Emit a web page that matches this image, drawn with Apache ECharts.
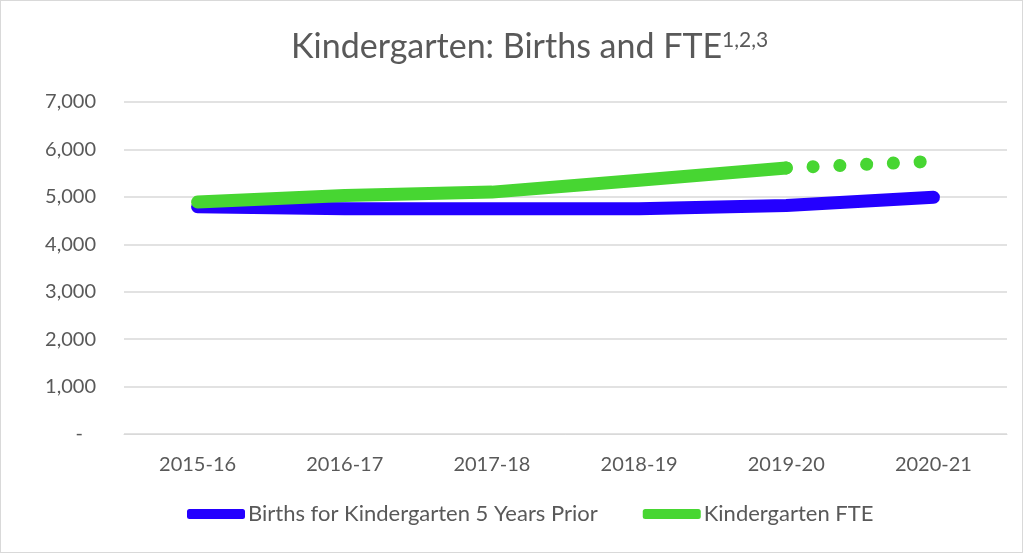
<!DOCTYPE html>
<html>
<head>
<meta charset="utf-8">
<title>Kindergarten: Births and FTE</title>
<script src="https://cdn.jsdelivr.net/npm/echarts@6/dist/echarts.min.js"></script>
<style>
    html, body { margin: 0; padding: 0; background: #fff; }
    #container { width: 1021px; height: 551px; border: 1px solid #d9d9d9; }
</style>
</head>
<body>
<div id="container"></div>
<script>
var categories = ['2015-16', '2016-17', '2017-18', '2018-19', '2019-20', '2020-21'];
var births = [4790, 4750, 4750, 4750, 4820, 4990];
var fteActual = [4890, 5030, 5100, 5350, 5610, null];
var fteProjected = [null, null, null, null, 5610, 5750];
var yTicks = [0, 1000, 2000, 3000, 4000, 5000, 6000, 7000];

!(function () {
    printChart();
}());

function printChart() {
    var dom = document.getElementById('container');
    var myChart = echarts.init(dom);
    var font = 'Lato, "Liberation Sans", sans-serif';
    var grey = '#595959';
    var option = {
        animation: false,
        title: {
            text: '{m|Kindergarten: Births and FTE}{s|1,2,3}',
            left: 285,
            top: 24,
            textStyle: {
                fontWeight: 'normal',
                rich: {
                    m: { fontFamily: font, fontSize: 34, fontWeight: 'normal', color: grey },
                    s: { fontFamily: font, fontSize: 21, fontWeight: 'normal', color: grey, verticalAlign: 'top', padding: [0, 0, 14, 0] }
                }
            }
        },
        grid: {
            left: 123,
            right: 15,
            top: 101,
            bottom: 118
        },
        legend: {
            bottom: 22,
            left: 181,
            itemWidth: 58,
            itemHeight: 10,
            itemGap: 45,
            icon: 'roundRect',
            data: ['Births for Kindergarten 5 Years Prior', 'Kindergarten FTE'],
            textStyle: { fontFamily: font, fontSize: 22, color: grey, padding: [0, 0, 0, -2] }
        },
        xAxis: {
            type: 'category',
            data: categories,
            boundaryGap: true,
            axisLine: { lineStyle: { color: '#d9d9d9', width: 1 } },
            axisTick: { show: false },
            axisLabel: { fontFamily: font, fontSize: 20, color: grey, margin: 21 }
        },
        yAxis: {
            type: 'value',
            min: yTicks[0],
            max: yTicks[yTicks.length - 1],
            interval: 1000,
            axisLine: { show: false },
            axisTick: { show: false },
            splitLine: { lineStyle: { color: '#d9d9d9', width: 1.5 } },
            axisLabel: {
                fontFamily: font,
                fontSize: 20,
                color: grey,
                margin: 28,
                formatter: function (v) {
                    if (v === 0) return '{d|-}';
                    return v.toLocaleString('en-US');
                },
                rich: {
                    d: { fontFamily: font, fontSize: 20, color: grey, padding: [0, 13, 0, 0] }
                }
            }
        },
        series: [
            {
                name: 'Births for Kindergarten 5 Years Prior',
                type: 'line',
                color: '#2400FF',
                data: births,
                showSymbol: false,
                symbol: 'none',
                lineStyle: { width: 13, cap: 'round', join: 'round' }
            },
            {
                name: 'Kindergarten FTE',
                type: 'line',
                color: '#47D632',
                data: fteActual,
                showSymbol: false,
                symbol: 'none',
                lineStyle: { width: 13, cap: 'round', join: 'round' }
            },
            {
                name: 'Kindergarten FTE',
                type: 'line',
                color: '#47D632',
                data: fteProjected,
                showSymbol: false,
                symbol: 'none',
                lineStyle: { width: 13, cap: 'round', type: [0.1, 26.7] }
            }
        ]
    };
    if (option && typeof option === 'object') {
        myChart.setOption(option, true);
    }
}
</script>
</body>
</html>
